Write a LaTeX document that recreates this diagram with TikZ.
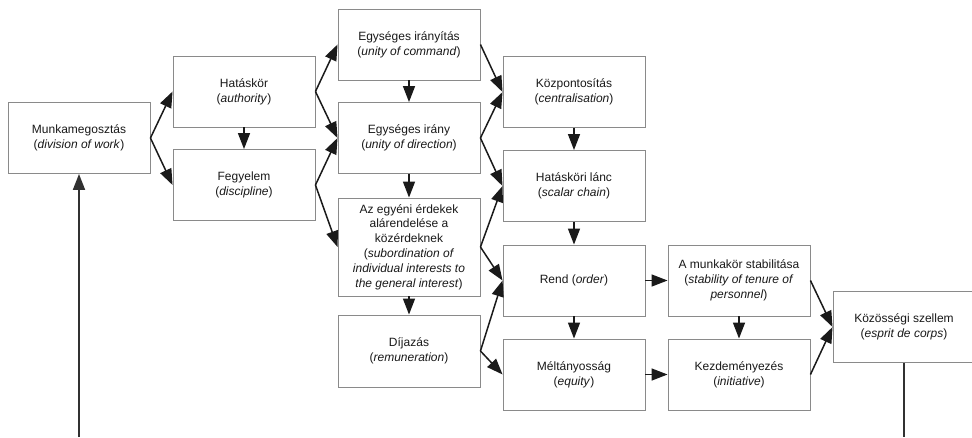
\documentclass[tikz,border=0pt]{standalone}
\usepackage{fontspec}
\setmainfont{Liberation Sans}
\usetikzlibrary{arrows.meta}
\definecolor{boxgray}{HTML}{8A8A8A}
\definecolor{arrowink}{HTML}{1A1A1A}
\begin{document}
\begin{tikzpicture}[x=1pt,y=-1pt,
  box/.style={draw=boxgray, line width=0.9pt, fill=white,
    minimum width=142pt, minimum height=71pt, inner sep=0pt,
    align=center, text=black!90, font=\fontsize{12}{14.8}\selectfont},
  head/.style={-{Triangle[length=16pt,width=12pt]}},
  link/.style={draw=arrowink, line width=1.5pt, head},
  feed/.style={draw=arrowink!90, line width=1.8pt}]
\useasboundingbox (0,0) rectangle (972,437);
\clip (0,0) rectangle (972,437);

% column 1
\node[box] (mw) at (79,138) {Munkamegosztás\\(\textit{division of work})};
% column 2
\node[box] (auth) at (244,91.5) {Hatáskör\\(\textit{authority})};
\node[box] (disc) at (244,185) {Fegyelem\\(\textit{discipline})};
% column 3
\node[box] (cmd) at (409,44.5) {Egységes irányítás\\(\textit{unity of command})};
\node[box] (dir) at (409,138) {Egységes irány\\(\textit{unity of direction})};
\node[box, minimum height=98pt] (sub) at (409,247)
  {Az egyéni érdekek\\alárendelése a\\közérdeknek\\(\textit{subordination of}\\\textit{individual interests to}\\\textit{the general interest})};
\node[box, minimum height=72pt] (rem) at (409,351) {Díjazás\\(\textit{remuneration})};
% column 4
\node[box] (cen) at (574,92) {Központosítás\\(\textit{centralisation})};
\node[box] (sca) at (574,186) {Hatásköri lánc\\(\textit{scalar chain})};
\node[box] (ord) at (574,280.5) {Rend (\textit{order})};
\node[box] (equ) at (574,374.5) {Méltányosság\\(\textit{equity})};
% column 5
\node[box] (ten) at (739,280.5) {A munkakör stabilitása\\(\textit{stability of tenure of}\\\textit{personnel})};
\node[box] (ini) at (739,374.5) {Kezdeményezés\\(\textit{initiative})};
% column 6
\node[box] (esp) at (904,327) {Közösségi szellem\\(\textit{esprit de corps})};

% free ends at the lower edge
\coordinate (mwin) at (79,437);
\coordinate (espout) at (904,437);

% fan-out connectors
\draw[link] (mw.east) -- (auth.west);
\draw[link] (mw.east) -- (disc.west);
\draw[link] (auth.east) -- (cmd.west);
\draw[link] (auth.east) -- (dir.west);
\draw[link] (disc.east) -- (dir.west);
\draw[link] (disc.east) -- (sub.west);
\draw[link] (cmd.east) -- (cen.west);
\draw[link] (dir.east) -- (cen.west);
\draw[link] (dir.east) -- (sca.west);
\draw[link] (sub.east) -- (sca.west);
\draw[link] (sub.east) -- (ord.west);
\draw[link] (rem.east) -- (ord.west);
\draw[link] (rem.east) -- (equ.west);
\draw[link] (ord.east) -- (ten.west);
\draw[link] (equ.east) -- (ini.west);
\draw[link] (ten.east) -- (esp.west);
\draw[link] (ini.east) -- (esp.west);

% vertical connectors
\draw[link] (auth.south) -- (disc.north);
\draw[link] (cmd.south) -- (dir.north);
\draw[link] (dir.south) -- (sub.north);
\draw[link] (sub.south) -- (rem.north);
\draw[link] (cen.south) -- (sca.north);
\draw[link] (sca.south) -- (ord.north);
\draw[link] (ord.south) -- (equ.north);
\draw[link] (ten.south) -- (ini.north);

% feedback loop ends
\draw[feed, head] (mwin) -- (mw.south);
\draw[feed] (esp.south) -- (espout);
\end{tikzpicture}
\end{document}
